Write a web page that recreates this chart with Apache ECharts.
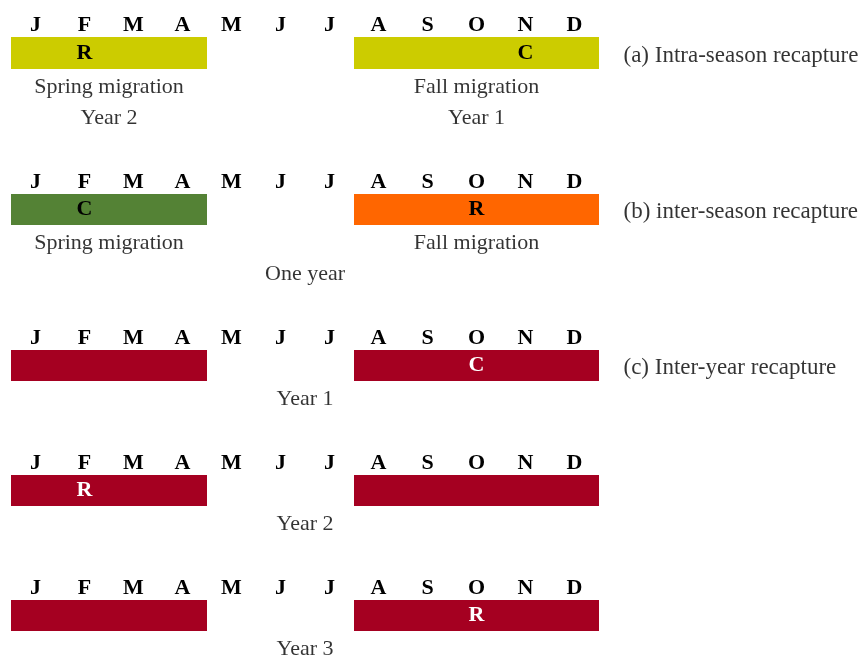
<!DOCTYPE html>
<html>
<head>
<meta charset="utf-8">
<script src="https://cdn.jsdelivr.net/npm/echarts@6/dist/echarts.min.js"></script>
<style>html,body{margin:0;padding:0;background:#fff;}#c{width:862px;height:659px;}</style>
</head>
<body>
<div id="c"></div>
<script>
// ---- data ----
const months = ['J','F','M','A','M','J','J','A','S','O','N','D'];
const activeMonths = [1,1,1,1,0,0,0,1,1,1,1,1];
const springColors = ['#CCCC00','#548235','#A50021','#A50021','#A50021'];
const fallColors   = ['#CCCC00','#FF6600','#A50021','#A50021','#A50021'];
const markerTextColors = ['#000000','#000000','#FFFFFF','#FFFFFF','#FFFFFF'];
// capture / recapture markers: [row, monthIndex, text]
const markers = [[0,1,'R'],[0,10,'C'],[1,1,'C'],[1,9,'R'],[2,9,'C'],[3,1,'R'],[4,9,'R']];
const rowTitles = ['(a) Intra-season recapture','(b) inter-season recapture','(c) Inter-year recapture','',''];
// notes below bars: [row, month position, line, text]
const notes = [
  [0,2,1,'Spring migration'],[0,9.5,1,'Fall migration'],[0,2,2,'Year 2'],[0,9.5,2,'Year 1'],
  [1,2,1,'Spring migration'],[1,9.5,1,'Fall migration'],[1,6,2,'One year'],
  [2,6,1,'Year 1'],[3,6,1,'Year 2'],[4,6,1,'Year 3']
];

// ---- layout ----
const FONT = 'Liberation Serif';
const FS = 22;
const rowTops = [37,194,350,475,600];
const rowHeights = [32,31,31,31,31];
const lineOffsets = {1:18.5, 2:49};

const grids = [], xAxes = [], yAxes = [], series = [];
rowTops.forEach((top, r) => {
  const h = rowHeights[r];
  grids.push({left:11, width:588, top:top, height:h});
  xAxes.push({type:'category', gridIndex:r, position:'top', data:months, boundaryGap:true,
    axisLine:{show:false}, axisTick:{show:false}, splitLine:{show:false},
    axisLabel:{interval:0, margin:1, color:'#000', fontWeight:'bold', fontSize:FS, fontFamily:FONT}});
  xAxes.push({type:'value', gridIndex:r, min:0, max:12, show:false, splitLine:{show:false}});
  yAxes.push({type:'value', gridIndex:r, min:0, max:1, show:false, splitLine:{show:false}});

  const barData = activeMonths.map((a, i) => {
    if (!a) return '-';
    const item = {value:1, itemStyle:{color: i < 6 ? springColors[r] : fallColors[r]}};
    const mk = markers.find(m => m[0] === r && m[1] === i);
    if (mk) item.label = {show:true, formatter: mk[2]};
    return item;
  });
  series.push({type:'bar', xAxisIndex:2*r, yAxisIndex:r, data:barData, barWidth:'100%', barCategoryGap:0,
    silent:true,
    label:{show:false, position:'inside', color:markerTextColors[r], fontWeight:'bold', fontSize:FS, fontFamily:FONT}});

  const pts = notes.filter(n => n[0] === r).map(n => ({value:[n[1], -lineOffsets[n[2]]/h, n[3]]}));
  if (rowTitles[r]) pts.push({value:[12.5, 0.42, rowTitles[r]], label:{align:'left', fontSize:23}});
  series.push({type:'scatter', xAxisIndex:2*r+1, yAxisIndex:r, data:pts, symbolSize:1, clip:false, silent:true,
    itemStyle:{color:'rgba(0,0,0,0)'},
    label:{show:true, position:'inside', align:'center', verticalAlign:'middle',
      formatter: p => p.value[2], color:'#000000', fontSize:FS, fontFamily:FONT}});
});

const chart = echarts.init(document.getElementById('c'), null, {renderer:'canvas'});
chart.setOption({animation:false, backgroundColor:'#fff', grid:grids, xAxis:xAxes, yAxis:yAxes, series:series});
</script>
</body>
</html>
